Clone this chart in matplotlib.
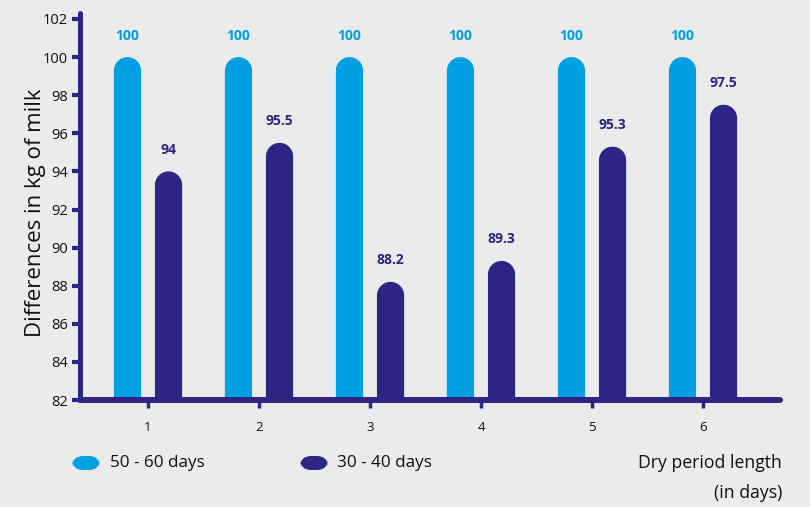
import matplotlib
matplotlib.use("Agg")
import numpy as np
import matplotlib.pyplot as plt
from matplotlib.patches import Polygon, FancyBboxPatch

plt.rcParams['font.family'] = ['Open Sans', 'DejaVu Sans']

# Data
groups = [1, 2, 3, 4, 5, 6]
long_dry = [100, 100, 100, 100, 100, 100]       # 50 - 60 days
short_dry = [94, 95.5, 88.2, 89.3, 95.3, 97.5]  # 30 - 40 days
y_ticks = [82, 84, 86, 88, 90, 92, 94, 96, 98, 100, 102]
series_labels = ["50 - 60 days", "30 - 40 days"]

LIGHT = "#009FE3"
DARK = "#2E2483"
BG = "#EBEBEB"
TXT = "#111111"

W, H, DPI = 810, 507, 100
fig = plt.figure(figsize=(W / DPI, H / DPI), dpi=DPI, facecolor=BG)

ax_left, ax_right, ax_bottom, ax_top = 80, 780, 400, 13
ax = fig.add_axes([ax_left / W, 1 - ax_bottom / H,
                   (ax_right - ax_left) / W, (ax_bottom - ax_top) / H])
ax.set_facecolor(BG)

y0 = 82
ymax = 82 + (ax_bottom - ax_top) / 19.05
xmin, xmax = 1 - 68 / 111, 6 + 77 / 111
ax.set_xlim(xmin, xmax)
ax.set_ylim(y0, ymax)

bar_w = 0.245
offset = 0.185
# vertical radius of the rounded caps in data units (half bar width in pixels)
px_per_x = (ax_right - ax_left) / (xmax - xmin)
px_per_y = (ax_bottom - ax_top) / (ymax - y0)
r_y = (bar_w * px_per_x / 2) / px_per_y
theta = np.linspace(0, np.pi, 40)


def rounded_bar(xc, val, color):
    top = val - r_y
    hw = bar_w / 2
    arc_x = xc + hw * np.cos(theta)
    arc_y = top + r_y * np.sin(theta)
    xs = np.concatenate([[xc + hw], arc_x, [xc - hw]])
    ys = np.concatenate([[y0], arc_y, [y0]])
    ax.add_patch(Polygon(np.column_stack([xs, ys]), closed=True,
                         facecolor=color, edgecolor='none', zorder=2))


for g, a, b in zip(groups, long_dry, short_dry):
    xa, xb = g - offset, g + offset
    rounded_bar(xa, a, LIGHT)
    rounded_bar(xb, b, DARK)
    ax.annotate(f"{a:g}", (xa, a), xytext=(0, 15.5), textcoords='offset points',
                ha='center', va='center', color=LIGHT, fontsize=10,
                fontweight='bold')
    ax.annotate(f"{b:g}", (xb, b), xytext=(0, 15.5), textcoords='offset points',
                ha='center', va='center', color=DARK, fontsize=10,
                fontweight='bold')

# Axes styling
for s in ['top', 'right']:
    ax.spines[s].set_visible(False)
for s, lw in (('left', 3.6), ('bottom', 4.3)):
    ax.spines[s].set_color(DARK)
    ax.spines[s].set_linewidth(lw)
    ax.spines[s].set_capstyle('round')
    ax.spines[s].set_zorder(3)

ax.set_yticks(y_ticks)
ax.set_yticklabels([str(t) for t in y_ticks], fontsize=10.5, color=TXT)
ax.set_xticks(groups)
ax.set_xticklabels([str(g) for g in groups], fontsize=9.5, color=TXT)
ax.tick_params(axis='y', length=6, width=3, color=DARK, pad=3)
ax.tick_params(axis='x', length=6, width=2.5, color=DARK, pad=9)

ax.set_ylabel("Differences in kg of milk", fontsize=16, color=TXT)
ax.yaxis.set_label_coords((46 - ax_left) / (ax_right - ax_left),
                          (ax_bottom - 213) / (ax_bottom - ax_top))


# Legend drawn as rounded pills
def pill(x_px, y_px, color):
    w, h = 28, 14
    fig.patches.append(FancyBboxPatch((x_px / W, 1 - (y_px + h / 2) / H),
                                      w / W, h / H,
                                      boxstyle=f"round,pad=0,rounding_size={h / 2 / H}",
                                      transform=fig.transFigure,
                                      facecolor=color, edgecolor='none',
                                      mutation_aspect=W / H))


pill(72, 463, LIGHT)
fig.text(110 / W, 1 - 463 / H, series_labels[0], fontsize=12.3, color=TXT,
         ha='left', va='center')
pill(300, 463, DARK)
fig.text(337 / W, 1 - 463 / H, series_labels[1], fontsize=12.3, color=TXT,
         ha='left', va='center')

fig.text(782 / W, 1 - 463 / H, "Dry period length", fontsize=12.7, color=TXT,
         ha='right', va='center')
fig.text(782 / W, 1 - 493 / H, "(in days)", fontsize=12.7, color=TXT,
         ha='right', va='center')

fig.savefig("out.png", dpi=DPI, facecolor=BG)
